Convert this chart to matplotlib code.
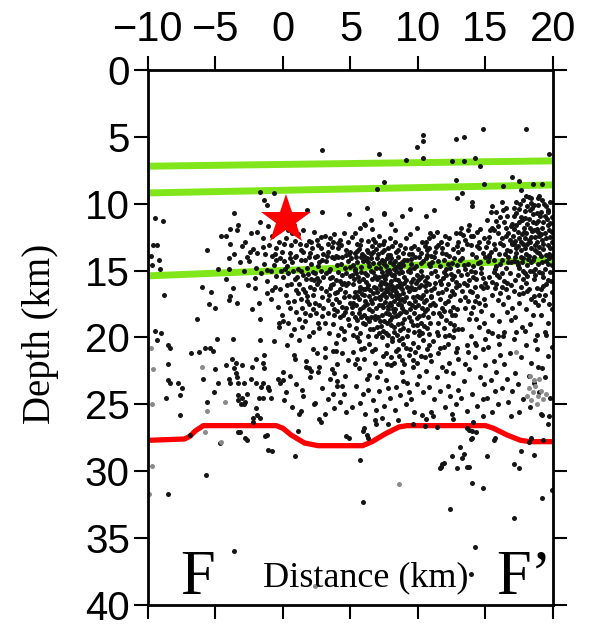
import matplotlib
matplotlib.use("Agg")
import matplotlib.pyplot as plt

plt.rcParams['font.family'] = ['Liberation Sans', 'DejaVu Sans']

# ---------------- data ----------------
x_ticks = [-10, -5, 0, 5, 10, 15, 20]
y_ticks = [0, 5, 10, 15, 20, 25, 30, 35, 40]

# interface lines (distance km, depth km)
layer1_x = [-10, 20]; layer1_y = [7.2, 6.8]
layer2_x = [-10, 20]; layer2_y = [9.2, 8.6]
layer3_x = [-10, 20]; layer3_y = [15.4, 14.2]
moho_x = [-10, -7.3, -6.9, -6.5, -5.9, -0.5, 0.0, 0.6, 1.6, 2.6, 5.9, 6.6, 7.6, 8.6, 9.2,
          15.0, 15.6, 16.6, 17.6, 18.3, 20]
moho_y = [27.7, 27.6, 27.4, 27.0, 26.6, 26.6, 26.8, 27.3, 27.9, 28.1, 28.1, 27.8, 27.2, 26.7, 26.6,
          26.6, 26.8, 27.3, 27.7, 27.8, 27.8]
mainshock_x = [0.25]
mainshock_y = [11.2]

shallow = [(7.1,6.3),(9.1,6.7),(9.9,5.8),(10.4,4.9),(10.4,5.3),(10.4,6.6),(12.5,6.8),(12.8,5.2),(13.4,5.0),
    (13.4,6.8),(14.2,6.6),(14.6,7.2),(14.8,4.4),(18.0,4.4),(19.7,6.3),(7.5,8.4),(7.0,8.9),(12.8,8.2),
    (13.3,9.2),(12.9,9.6),(14.9,8.5),(16.3,8.7),(17.0,8.0),(17.5,8.3),(18.5,8.5),(19.2,8.5),(14.0,9.9),
    (14.0,10.2),(6.2,10.3),(4.9,10.8),(7.5,10.8),(8.8,10.9),(9.4,10.4),(10.6,10.9),(11.2,10.5),(6.5,11.2),
    (6.6,11.9),(8.0,11.5),(5.7,11.8),(6.0,11.5),(15.5,10.2),(15.8,10.6),(16.2,9.9),(16.5,10.3),(17.6,9.0),
    (18.0,9.4),(18.4,9.6),(18.9,10.1),(19.2,9.7),(19.6,10.5),(1.8,10.5),(2.9,10.6),(7.5,10.7),(6.1,11.6),
    (8.3,12.0),(9.9,11.8),(2.9,6.0),(-1.7,9.1),(-0.7,9.2),(-1.4,9.7),(-1.2,10.1)]

west_sparse = [(-9.5,11.1),(-8.9,11.3),(-3.6,10.7),(-9.3,13.1),(-9.6,13.1),(-9.2,14.2),(-9.1,14.9),
    (-5.6,13.5),(-4.0,14.1),(-4.0,14.9),(-6.0,16.2),(-5.3,16.6),(-8.8,16.8),(-5.5,17.5),(-5.0,17.8),
    (-6.4,18.6),(-3.9,16.9),(-3.4,17.4),(-9.5,19.5),(-9.0,19.7),(-9.8,13.9),(-9.7,14.6)]

band_west = [(-2.8,12.9),(-2.5,14.3),(-2.2,13.4),(-1.9,12.1),(-1.6,15.2),(-1.3,13.8),(-1.1,11.7),(-2.6,16.1),
    (-2.0,14.8),(-1.5,12.6),(-1.2,16.7),(-2.9,15.0),(-1.8,17.4),(-2.4,12.2),(-1.4,14.5),(-1.0,13.1),
    (-2.1,16.3),(-1.7,11.4),(-2.7,14.0),(-1.2,15.8),(-1.9,13.7),(-2.3,17.9),
    (-4.6,12.4),(-3.9,13.0),(-3.4,12.0),(-4.2,15.6),(-3.2,14.4),(-3.7,16.3),(-4.8,14.9),(-3.3,11.6),
    (-4.0,17.2),(-3.6,13.8),(-4.2,12.4),(-3.9,11.9),
    (-0.8,12.4),(-0.5,13.3),(-0.2,14.1),(0.1,13.0),(0.4,15.2),(0.7,14.4),(0.9,12.8),(-0.9,15.0),
    (-0.6,16.2),(-0.3,12.9),(0.2,16.8),(0.5,13.7),(0.8,17.3),(-0.7,14.6),(-0.4,17.7),(0.0,15.5),
    (0.3,14.7),(0.6,16.0),(0.9,15.6),(-0.1,18.3),(0.4,18.9),(-0.8,13.9),(0.7,12.2),(-0.2,16.4),
    (0.1,14.3),(0.5,17.8),(-0.5,15.4),(0.8,19.4),(-0.9,17.1),(0.2,12.6),(0.6,13.1),(-0.6,13.8),
    (0.3,16.1),(-0.3,19.2),(0.9,14.0),(-0.1,13.6),(0.4,12.0),(0.8,11.6),(1.0,18.1),(-0.4,11.8),
    (0.15,14.85),(0.55,14.05),(0.35,17.35),(0.75,15.05),(-0.55,14.25),(-0.15,15.05),(-1.45,13.25),
    (-2.05,15.55),(-0.85,16.45),(-2.45,13.65),(-1.15,14.95),(-3.05,13.15)]

band_mid = [(1.1,12.3),(1.3,13.5),(1.6,14.2),(1.9,12.8),(2.2,15.1),(2.5,13.9),(2.8,12.5),(1.2,16.0),
    (1.5,15.3),(1.8,16.9),(2.1,14.5),(2.4,17.4),(2.7,15.8),(2.9,14.2),(1.4,17.8),(1.7,13.1),(2.0,18.3),
    (2.3,16.4),(2.6,18.9),(2.9,17.0),(1.1,14.9),(1.4,19.2),(1.7,15.6),(2.0,13.7),(2.3,12.1),(2.6,14.7),
    (2.8,16.3),(1.2,18.6),(1.5,12.0),(1.9,17.5),(2.2,19.6),(2.5,16.0),(2.8,13.3),(1.3,15.0),(1.6,16.6),
    (1.9,14.0),(2.2,17.9),(2.4,15.2),(2.7,19.3),(3.0,15.5),(1.0,13.9),(1.3,17.1),(1.6,18.2),(1.9,19.9),
    (2.1,12.9),(2.4,14.0),(2.6,13.1),(2.9,18.4),(1.1,16.7),(1.8,14.8),(2.3,15.7),(2.7,17.6),(1.5,13.6),
    (2.0,16.2),(2.5,12.7),
    (0.95,16.45),(1.35,14.25),(1.75,17.25),(2.15,13.35),(2.55,15.55),(2.95,13.75),(1.05,15.45),
    (1.45,16.35),(1.85,15.25),(2.25,16.85),(2.65,14.35),(1.25,13.05),(1.65,18.75),(2.05,15.65),
    (2.45,18.15),(2.85,15.05),
    (3.1,12.4),(3.3,13.6),(3.5,14.9),(3.7,12.9),(3.9,15.7),(4.1,13.3),(4.3,14.5),(4.5,12.2),(4.7,16.1),
    (4.9,13.8),(3.2,15.2),(3.4,16.8),(3.6,17.5),(3.8,14.1),(4.0,18.0),(4.2,16.4),(4.4,17.7),(4.6,14.8),
    (4.8,18.6),(5.0,15.4),(3.1,18.9),(3.3,17.2),(3.5,12.6),(3.7,16.0),(3.9,13.9),(4.1,15.1),(4.3,19.3),
    (4.5,15.9),(4.7,13.5),(4.9,16.9),(3.2,14.3),(3.4,19.7),(3.6,15.5),(3.8,18.3),(4.0,14.6),(4.2,12.7),
    (4.4,16.0),(4.6,18.1),(4.8,14.3),(5.0,17.4),(3.3,13.0),(3.5,16.3),(3.7,19.0),(3.9,17.1),(4.1,19.8),
    (4.3,13.1),(4.5,17.0),(4.7,15.2),(4.9,19.1),(3.0,17.8),(3.6,14.0),(4.0,16.6),(4.4,14.0),(4.8,12.9),
    (3.2,16.5),(3.8,12.3),(4.2,18.5),(4.6,16.6),(5.0,13.6),(3.4,15.0),(3.9,20.4),(4.5,20.1),(3.1,20.8),
    (4.7,17.8),(4.1,14.0),
    (3.25,13.95),(3.45,15.55),(3.65,13.25),(3.85,16.65),(4.05,12.95),(4.25,15.75),(4.45,18.35),
    (4.65,13.85),(4.85,15.95),(3.35,18.15),(3.75,17.85),(4.15,17.35),(4.55,19.55),(4.95,14.75),
    (3.55,16.05),(4.35,15.35)]

band_core = [(5.1,12.5),(5.3,13.7),(5.5,14.4),(5.7,13.1),(5.9,15.6),(6.1,14.2),(6.3,12.8),(6.5,15.0),
    (6.7,13.6),(6.9,16.3),(5.2,16.0),(5.4,15.2),(5.6,17.1),(5.8,14.0),(6.0,16.8),(6.2,17.5),(6.4,14.7),
    (6.6,18.0),(6.8,15.4),(7.0,14.1),(5.1,18.2),(5.3,16.6),(5.5,18.7),(5.7,16.2),(5.9,17.7),(6.1,19.0),
    (6.3,16.1),(6.5,17.2),(6.7,19.4),(6.9,17.8),(5.2,14.6),(5.4,19.3),(5.6,13.4),(5.8,18.5),(6.0,13.9),
    (6.2,15.3),(6.4,18.8),(6.6,13.2),(6.8,18.4),(7.0,16.6),(5.1,15.3),(5.3,12.2),(5.5,16.9),(5.7,19.7),
    (5.9,14.3),(6.1,16.4),(6.3,19.9),(6.5,14.1),(6.7,16.7),(6.9,14.8),(5.2,17.4),(5.4,14.0),(5.6,15.8),
    (5.8,12.7),(6.0,18.3),(6.2,13.5),(6.4,16.9),(6.6,15.6),(6.8,12.9),(7.0,19.2),(5.3,15.0),(5.5,13.0),
    (5.7,17.9),(5.9,16.4),(6.1,17.3),(6.3,14.4),(6.5,18.5),(6.7,15.1),(6.9,13.4),(5.4,17.6),(5.8,15.1),
    (6.2,16.3),(6.6,17.4),(5.6,20.3),(6.0,20.8),(6.4,20.5),(6.8,20.9),(5.2,19.8),(6.9,19.9),(6.3,13.6),
    (5.05,14.05),(5.25,15.65),(5.45,13.55),(5.65,16.55),(5.85,13.75),(6.05,15.15),(6.25,14.05),
    (6.45,16.45),(6.65,14.45),(6.85,17.05),(5.15,17.75),(5.35,18.45),(5.55,15.45),(5.75,14.75),
    (5.95,18.95),(6.15,15.85),(6.35,17.85),(6.55,13.75),(6.75,16.25),(6.95,15.65),(5.25,16.95),
    (5.65,18.15),(6.05,17.55),(6.45,19.35),(6.85,18.65),(5.45,19.95),(6.25,18.55),(5.85,16.75),
    (6.65,12.65),(5.35,14.85),
    (7.1,13.1),(7.3,14.2),(7.5,13.5),(7.7,15.0),(7.9,14.4),(8.1,13.2),(8.3,15.6),(8.5,14.0),(8.7,16.2),
    (8.9,13.7),(7.2,16.1),(7.4,15.4),(7.6,17.0),(7.8,16.3),(8.0,15.8),(8.2,17.3),(8.4,16.6),(8.6,15.2),
    (8.8,17.8),(9.0,15.9),(7.1,17.6),(7.3,18.3),(7.5,16.7),(7.7,18.9),(7.9,17.4),(8.1,18.5),(8.3,17.9),
    (8.5,19.0),(8.7,18.2),(8.9,19.3),(7.2,14.8),(7.4,13.0),(7.6,14.7),(7.8,13.3),(8.0,14.1),(8.2,14.9),
    (8.4,13.6),(8.6,14.5),(8.8,15.1),(9.0,14.2),(7.1,15.5),(7.3,16.8),(7.5,15.9),(7.7,16.5),(7.9,16.0),
    (8.1,16.9),(8.3,16.3),(8.5,17.5),(8.7,14.8),(8.9,16.7),(7.2,18.8),(7.4,19.5),(7.6,18.2),(7.8,19.8),
    (8.0,19.1),(8.2,19.6),(8.4,18.4),(8.6,20.2),(8.8,18.9),(9.0,17.3),(7.1,12.4),(7.5,12.8),(7.9,12.6),
    (8.3,12.9),(8.7,13.1),(7.3,15.1),(7.7,14.1),(8.1,15.3),(8.5,15.7),(8.9,14.6),(7.2,17.1),(7.6,16.0),
    (8.0,17.6),(8.4,15.0),(8.8,16.4),(7.4,17.7),(7.8,17.9),(8.2,18.1),(8.6,16.8),(9.0,18.6),(7.3,20.0),
    (7.7,20.6),(8.1,20.3),(8.5,20.9),(8.9,20.5),(7.5,14.3),(7.9,15.2),(8.3,14.3),(8.7,17.2),(7.1,19.7),
    (7.6,21.2),(8.0,21.5),(8.4,21.0),(8.8,21.7),(7.9,18.7),
    (7.05,13.75),(7.25,15.85),(7.45,14.55),(7.65,16.35),(7.85,14.95),(8.05,16.45),(8.25,15.35),
    (8.45,17.05),(8.65,15.95),(8.85,14.35),(7.15,16.95),(7.35,17.55),(7.55,17.35),(7.75,17.65),
    (7.95,16.75),(8.15,17.85),(8.35,16.85),(8.55,18.35),(8.75,17.55),(8.95,18.05),(7.05,18.45),
    (7.45,18.75),(7.85,18.25),(8.25,19.25),(8.65,19.45),(7.25,19.15),(7.65,19.65),(8.05,20.05),
    (8.45,19.85),(8.85,20.05),(7.35,13.65),(7.75,13.85),(8.15,14.55),(8.55,13.45),(8.95,15.45),
    (7.15,14.45),(7.55,15.65),(7.95,13.85),(8.35,14.75),(8.75,16.05),(7.65,15.35),(8.05,16.15),
    (8.45,16.15),(7.25,16.35),(8.85,17.15),
    (9.1,12.6),(9.3,13.8),(9.5,14.5),(9.7,13.2),(9.9,15.3),(10.1,14.0),(10.3,12.9),(10.5,15.8),(10.7,13.5),
    (10.9,14.7),(9.2,16.2),(9.4,15.1),(9.6,17.0),(9.8,16.4),(10.0,17.6),(10.2,16.1),(10.4,14.3),(10.6,17.2),
    (10.8,16.0),(11.0,15.2),(9.1,18.1),(9.3,17.4),(9.5,18.8),(9.7,18.2),(9.9,19.1),(10.1,18.4),(10.3,19.7),
    (10.5,18.0),(10.7,19.3),(10.9,17.6),(9.2,14.2),(9.4,12.3),(9.6,15.6),(9.8,14.0),(10.0,13.4),(10.2,15.0),
    (10.4,16.8),(10.6,14.1),(10.8,12.6),(11.0,13.9),(9.1,15.7),(9.3,16.5),(9.5,16.2),(9.7,19.6),(9.9,16.9),
    (10.1,17.0),(10.3,17.8),(10.5,13.2),(10.7,15.9),(10.9,18.9),(9.2,19.9),(9.6,20.4),(10.0,20.7),(10.4,20.2),
    (10.8,20.6),(9.4,17.9),(9.8,17.3),(10.2,18.9),(10.6,16.5),(11.0,16.9),(9.3,21.3),(9.9,21.9),(10.5,21.5),
    (9.5,13.3),(10.3,15.4),(10.9,12.2),(9.7,14.8),(10.1,19.5),(10.7,17.9),(9.1,20.8),(10.0,15.7),(10.6,12.9),
    (9.4,14.9),(10.8,14.5),(10.2,13.7),
    (9.05,13.35),(9.25,15.05),(9.45,14.15),(9.65,16.35),(9.85,14.65),(10.05,16.25),(10.25,14.45),
    (10.45,17.35),(10.65,15.45),(10.85,13.35),(9.15,16.95),(9.35,18.45),(9.55,17.55),(9.75,17.75),
    (9.95,18.55),(10.15,15.55),(10.35,18.35),(10.55,16.15),(10.75,18.45),(10.95,16.45),(9.25,19.45),
    (9.65,19.05),(10.05,19.85),(10.45,19.15),(10.85,19.75),(9.45,15.85),(9.85,15.95),(10.25,17.05),
    (10.65,13.85),(9.55,13.75)]

band_east = [(11.1,12.4),(11.3,13.6),(11.5,14.3),(11.7,12.9),(11.9,15.1),(12.1,13.8),(12.3,12.6),(12.5,15.6),
    (12.7,14.1),(12.9,13.2),(11.2,16.3),(11.4,15.4),(11.6,17.1),(11.8,16.6),(12.0,17.4),(12.2,16.0),
    (12.4,14.8),(12.6,17.7),(12.8,16.2),(13.0,15.0),(11.1,18.2),(11.3,17.6),(11.5,18.9),(11.7,18.4),
    (11.9,19.3),(12.1,18.7),(12.3,19.8),(12.5,18.3),(12.7,19.1),(12.9,17.9),(11.2,14.0),(11.4,12.1),
    (11.6,15.8),(11.8,13.7),(12.0,12.4),(12.2,14.5),(12.4,16.9),(12.6,13.4),(12.8,12.2),(13.0,13.6),
    (11.3,15.0),(11.7,16.0),(12.1,15.3),(12.5,16.5),(12.9,14.6),(11.5,13.1),(11.9,14.2),(12.3,13.9),
    (12.7,15.4),(11.1,20.3),(11.6,20.8),(12.2,20.5),(12.8,21.1),(11.4,19.6),(12.0,19.9),(12.6,20.0),
    (13.0,19.4),(11.0,17.0),(12.4,18.0),(11.8,17.8),
    (11.05,14.35),(11.25,15.95),(11.45,16.65),(11.65,14.65),(11.85,15.55),(12.05,16.35),(12.25,17.25),
    (12.45,15.25),(12.65,16.75),(12.85,15.85),(11.15,17.45),(11.55,18.15),(11.95,18.05),(12.35,18.95),
    (12.75,18.35),(11.35,13.25),(11.75,13.35),(12.15,13.05),(12.55,14.45),(12.95,12.85),(11.45,19.85),
    (12.05,14.85),(12.65,19.45),
    (13.1,12.2),(13.3,13.4),(13.5,12.7),(13.7,14.5),(13.9,13.1),(14.1,12.4),(14.3,14.0),(14.5,13.3),
    (14.7,15.2),(14.9,12.6),(13.2,15.3),(13.4,14.6),(13.6,16.1),(13.8,15.7),(14.0,16.6),(14.2,15.1),
    (14.4,16.9),(14.6,14.4),(14.8,16.3),(15.0,14.0),(13.1,17.2),(13.3,16.5),(13.5,17.8),(13.7,17.3),
    (13.9,18.2),(14.1,17.7),(14.3,18.6),(14.5,17.4),(14.7,18.0),(14.9,17.1),(13.2,11.8),(13.6,13.0),
    (14.0,13.8),(14.4,12.1),(14.8,13.7),(13.4,15.9),(13.8,11.6),(14.2,16.2),(14.6,11.9),(15.0,15.9),
    (13.3,19.4),(13.9,19.9),(14.5,19.2),(15.0,20.1),(13.6,20.6),(14.2,20.4),(14.8,20.9),(13.1,14.2),
    (13.5,14.9),(13.9,15.0),(14.3,15.6),(14.7,14.8),(13.7,12.0),(14.1,14.7),(14.9,18.9),
    (13.05,16.05),(13.45,16.95),(13.85,16.55),(14.25,17.25),(14.65,16.15),(13.25,14.05),(13.65,15.25),
    (14.05,15.45),(14.45,14.45),(14.85,15.55),(13.35,12.35),(13.95,12.45),(14.55,12.85),(15.05,13.25),
    (13.75,18.65),(14.35,13.15),
    (15.1,11.2),(15.3,12.5),(15.5,11.8),(15.7,13.4),(15.9,12.2),(16.1,11.0),(16.3,13.1),(16.5,12.4),
    (16.7,14.0),(16.9,11.7),(15.2,14.3),(15.4,13.6),(15.6,15.1),(15.8,14.7),(16.0,15.5),(16.2,14.2),
    (16.4,15.8),(16.6,13.5),(16.8,15.2),(17.0,13.0),(15.1,16.2),(15.3,15.5),(15.5,16.8),(15.7,16.3),
    (15.9,17.2),(16.1,16.7),(16.3,17.5),(16.5,16.4),(16.7,17.0),(16.9,16.1),(15.2,12.9),(15.6,12.0),
    (16.0,13.8),(16.4,11.4),(16.8,12.7),(15.4,10.6),(15.8,11.3),(16.2,12.6),(16.6,10.9),(17.0,11.5),
    (15.3,14.0),(15.7,14.9),(16.1,14.5),(16.5,14.8),(16.9,14.4),(15.5,18.3),(16.0,18.8),(16.6,18.1),
    (15.2,19.5),(15.9,19.9),(16.4,19.6),(16.9,18.7),(15.6,13.0),(16.3,10.5),(16.7,12.2),(15.0,17.6),
    (16.2,15.2),(15.8,16.0),(16.6,15.9),(17.0,17.8),
    (15.25,13.85),(15.65,14.25),(16.05,12.95),(16.45,13.75),(16.85,13.55),(15.45,15.85),(15.85,15.35),
    (16.25,16.25),(16.65,14.35),(15.35,11.95),(15.95,11.65),(16.55,11.85),(16.95,12.95)]

band_far_east = [(17.1,10.9),(17.3,11.6),(17.5,10.4),(17.7,12.3),(17.9,11.1),(18.1,10.2),(18.3,11.8),
    (18.5,10.8),(18.7,12.5),(18.9,11.3),(17.2,12.8),(17.4,12.1),(17.6,13.5),(17.8,13.0),(18.0,13.8),
    (18.2,12.7),(18.4,13.3),(18.6,12.0),(18.8,13.6),(19.0,12.4),(17.1,14.3),(17.3,13.7),(17.5,14.8),
    (17.7,14.4),(17.9,15.2),(18.1,14.6),(18.3,15.0),(18.5,14.2),(18.7,14.9),(18.9,14.5),(17.2,15.7),
    (17.4,15.3),(17.6,16.2),(17.8,16.7),(18.0,15.9),(18.2,16.4),(18.4,17.1),(18.6,15.6),(18.8,16.3),
    (19.0,16.8),(17.1,11.9),(17.3,10.7),(17.5,12.6),(17.7,11.2),(17.9,13.3),(18.1,11.5),(18.3,12.9),
    (18.5,11.4),(18.7,13.1),(18.9,12.1),(17.2,14.0),(17.4,14.6),(17.6,11.0),(17.8,14.1),(18.0,12.2),
    (18.2,13.9),(18.4,12.5),(18.6,14.0),(18.8,10.7),(19.0,13.7),(17.3,9.9),(17.8,9.7),(18.2,9.5),
    (18.6,10.1),(18.9,9.6),(17.5,17.4),(18.0,17.9),(18.5,18.3),(18.9,17.6),(17.2,18.5),(17.7,19.2),
    (18.3,19.0),(18.8,19.8),(17.4,13.2),(17.9,12.6),(18.4,14.4),(18.8,11.9),(17.6,14.0),(18.1,15.4),
    (18.6,16.9),(17.1,16.5),(18.3,10.5),(18.7,15.3),(17.8,15.6),(19.0,15.1),
    (19.1,10.6),(19.3,11.4),(19.5,10.2),(19.7,12.0),(19.9,11.0),(19.2,12.7),(19.4,12.2),(19.6,13.1),
    (19.8,12.5),(19.1,13.9),(19.3,13.4),(19.5,14.3),(19.7,13.8),(19.9,14.6),(19.2,15.2),(19.4,14.9),
    (19.6,15.7),(19.8,15.1),(19.1,16.4),(19.5,16.0),(19.9,16.6),(19.3,17.2),(19.7,17.5),(19.4,10.9),
    (19.8,9.9),(19.2,11.8),(19.6,11.6),(19.9,12.9),(19.3,15.5),(19.7,14.1),(19.1,18.3),(19.6,18.9),
    (19.9,17.9),(19.4,19.6),(19.5,12.6),(19.2,14.4),(19.8,13.3),(19.6,10.6),(19.0,9.4),(19.4,16.8),
    (17.05,12.45),(17.25,13.35),(17.45,11.35),(17.65,12.85),(17.85,11.85),(18.05,13.05),(18.25,11.15),
    (18.45,12.05),(18.65,13.45),(18.85,12.85),(17.15,10.35),(17.55,10.05),(17.95,10.55),(18.35,9.95),
    (18.75,11.45),(19.15,12.25),(19.35,10.05),(19.55,11.15),(19.75,11.45),(19.95,12.15),(17.35,14.35),
    (17.75,15.05),(18.15,14.15),(18.55,15.05),(18.95,13.25),(19.25,13.05),(19.45,13.85),(19.65,14.55),
    (19.85,13.95),(17.45,16.75),(18.05,16.55),(18.65,17.35),(19.25,16.15),(19.85,15.75),(17.15,13.05),
    (17.85,12.15),(18.45,10.35),(19.05,10.95)]

lower_crust = [(0.3,20.6),(0.8,21.3),(1.2,20.2),(1.7,21.8),(2.2,20.9),(2.6,22.6),(3.1,21.5),(3.5,23.1),
    (4.0,22.0),(4.4,23.6),(4.8,21.7),(0.5,22.9),(1.0,23.5),(1.5,24.4),(2.0,23.0),(2.4,24.9),(2.9,23.8),
    (3.3,24.6),(3.8,25.3),(4.2,24.8),(4.7,25.6),(0.2,24.1),(1.3,25.5),(2.7,26.1),(3.6,22.4),(4.6,22.9),
    (1.9,22.3),(0.6,19.8),(2.5,21.2),(3.9,21.0),
    (5.2,21.1),(5.6,22.3),(6.0,21.6),(6.4,22.8),(6.8,21.9),(7.2,22.5),(7.6,23.2),(8.0,22.1),(8.4,23.7),
    (8.8,22.6),(9.2,23.4),(9.6,22.2),(5.4,23.6),(5.9,24.2),(6.3,23.9),(6.7,24.7),(7.1,24.0),(7.5,25.1),
    (7.9,24.5),(8.3,25.4),(8.7,24.3),(9.1,25.0),(9.5,24.6),(9.9,23.5),(5.1,25.2),(6.1,25.7),(7.3,26.0),
    (8.5,26.2),(9.7,25.6),(5.8,20.9),(6.6,21.0),(7.4,21.4),(8.2,21.9),(9.0,22.0),(9.8,21.1),(5.3,22.0),
    (7.0,23.0),(8.6,21.4),(9.4,20.9),(6.2,23.1),(7.8,23.8),(9.3,24.1),(5.7,24.9),(8.9,23.3),(6.9,25.4),
    (5.5,21.6),(7.7,22.0),(9.6,21.7),
    (10.2,21.4),(10.6,22.5),(11.0,21.8),(11.4,23.0),(11.8,22.2),(12.2,23.6),(12.6,22.7),(13.0,21.6),
    (13.4,23.3),(13.8,22.4),(14.2,21.5),(14.6,23.0),(15.0,22.1),(10.4,24.1),(10.8,23.7),(11.2,24.6),
    (11.6,24.0),(12.0,25.2),(12.4,24.4),(12.8,25.0),(13.2,24.5),(13.6,25.5),(14.0,24.2),(14.4,25.1),
    (14.8,24.6),(10.1,22.9),(11.5,21.2),(12.9,20.8),(14.3,20.6),(10.7,20.9),(12.3,21.9),(13.7,21.1),
    (14.9,23.5),(11.0,25.6),(13.0,23.9),(10.3,25.8),(12.6,26.1),(14.1,26.3),(11.9,20.7),(13.5,22.0),
    (10.9,21.3),(12.1,22.5),
    (15.2,20.7),(15.6,21.8),(16.0,20.5),(16.4,22.0),(16.8,21.2),(17.2,22.7),(17.6,21.5),(18.0,20.6),
    (18.4,21.9),(18.8,20.9),(19.2,22.3),(19.6,21.4),(15.4,23.2),(15.8,22.6),(16.2,23.8),(16.6,23.1),
    (17.0,24.0),(17.4,23.5),(17.8,24.6),(18.2,22.9),(18.6,23.4),(19.0,24.1),(19.4,23.0),(19.8,24.5),
    (15.1,24.5),(15.9,25.0),(16.7,24.8),(17.5,25.6),(18.3,25.2),(19.1,25.7),(15.5,19.7),(16.3,19.9),
    (17.1,20.1),(17.9,19.5),(18.7,20.2),(19.5,19.8),(16.1,21.3),(17.3,19.6),(19.9,20.7),(15.7,24.0),
    (18.9,22.2),(16.9,25.9),
    (6.0,26.8),(6.2,27.3),(5.9,27.0),(6.8,26.2),(6.9,26.5),(7.8,26.5),(10.6,26.1),(11.1,25.9),(9.6,26.5),
    (10.5,26.6),(11.4,26.7),(12.5,25.7),(13.6,26.8),(13.8,26.9),(14.8,25.9),(15.5,25.6),(19.6,26.5),
    (19.7,25.9),(19.2,25.8)]

west_lower = [(-1.7,18.6),(-0.3,18.9),(0.0,18.8),(-9.3,20.2),(-8.5,20.6),(-8.4,20.8),(-4.9,20.1),
    (-3.7,20.1),(-1.7,20.2),(-0.7,20.3),(-6.8,21.2),(-6.2,21.1),(-5.8,20.8),(-5.4,20.8),(-5.2,21.0),
    (-8.5,22.0),(-5.0,22.4),(-4.2,22.1),(-3.8,21.6),(-3.6,22.3),(-3.5,21.9),(-3.0,22.1),(-2.3,22.2),
    (-2.0,21.6),(-1.5,21.9),(-1.4,22.3),(-1.4,21.3),(0.0,22.6),(-8.5,23.2),(-8.4,23.4),(-7.8,23.4),
    (-7.5,23.8),(-5.9,23.1),(-4.8,23.4),(-4.0,23.1),(-3.9,23.4),(-3.4,23.0),(-3.3,23.4),(-2.9,23.4),
    (-3.5,22.7),(-2.4,23.1),(-2.0,23.4),(-1.6,23.7),(-1.5,23.4),(-1.1,23.7),(-1.0,23.9),(-0.4,23.1),
    (0.0,23.2),(-0.2,23.4),(-8.7,24.5),(-7.6,24.3),(-5.6,24.8),(-5.1,24.1),(-3.3,24.3),(-3.3,24.7),
    (-3.0,24.5),(-2.8,24.8),(-2.9,25.0),(-3.1,25.0),(-2.7,24.2),(-1.8,24.5),(-1.5,24.5),(-1.1,23.8),
    (-0.9,24.5),(-2.0,25.3),(-1.9,25.8),(-7.6,25.8),(-2.2,26.3),(-2.2,26.0),(-1.7,26.0),(-3.3,27.1),
    (-2.8,27.5),(-1.3,27.4),(-1.2,27.3),(-6.9,27.3),(-3.2,27.1),(-2.7,27.7),(-4.7,27.9),
    (2.3,25.0),(2.8,26.3),(3.1,25.7),(1.2,25.7),(0.7,25.2),(0.1,24.7),(1.4,23.9),(0.9,21.6),(1.7,22.2),
    (2.1,22.5),(2.7,22.2),(3.7,21.0),(4.4,21.2),(3.8,22.7),(4.0,23.3),(4.0,23.6),(4.5,24.2),(3.7,24.2),
    (4.7,27.4),(1.1,27.0)]

deep = [(-1.1,28.4),(-0.8,28.5),(0.9,28.9),(-5.7,30.3),(-8.5,31.7),(-3.6,36.0),(4.9,27.5),(6.3,27.5),
    (5.7,29.2),(5.9,32.3),(11.7,29.7),(11.8,29.5),(11.9,29.4),(12.5,28.9),(13.1,28.2),(13.3,29.0),
    (13.4,28.7),(12.9,29.8),(13.8,29.7),(13.9,27.6),(15.1,28.9),(15.6,27.7),(15.7,27.5),(14.0,30.9),
    (14.8,31.3),(12.4,32.8),(17.1,29.5),(17.5,29.8),(17.6,28.5),(18.6,28.8),(18.2,27.8),(19.3,27.7),
    (19.2,32.0),(19.9,31.4),(17.1,33.5),(14.2,35.7),(13.9,37.7),(14.0,27.0),(14.0,27.5),(14.3,27.1),
    (13.6,29.7),(11.6,29.8),(18.4,27.5)]

faint = [(-9.6,22.4),(-6.0,22.2),(-9.7,25.0),(-4.3,24.8),(-5.6,25.5),(-5.8,27.1),(-4.6,27.8),
    (-9.9,31.7),(8.6,31.0),(2.4,38.6),(18.2,23.8),(18.5,24.1),(18.7,23.6),(18.9,24.4),(19.1,24.0),
    (18.4,24.7),(18.8,25.0),(19.3,24.6),(18.6,23.2),(19.0,23.1),(18.3,22.9),(17.3,21.1),(19.5,24.2),
    (18.1,24.4),(-9.8,20.8),(-9.7,29.6)]

# ---------------- figure ----------------
fig = plt.figure(figsize=(5.92, 6.30), dpi=100)
ax = fig.add_axes([0.25, 0.04, 0.684, 0.849])

green = '#80e61a'
ax.plot(layer1_x, layer1_y, color=green, lw=5, solid_capstyle='butt', zorder=1)
ax.plot(layer2_x, layer2_y, color=green, lw=5, solid_capstyle='butt', zorder=1)
ax.plot(layer3_x, layer3_y, color=green, lw=5, solid_capstyle='butt', zorder=1)
ax.plot(moho_x, moho_y, color='#ff0000', lw=3.8, solid_joinstyle='round', zorder=1)

black_groups = [shallow, west_sparse, band_west, band_mid, band_core, band_east, band_far_east,
                lower_crust, west_lower, deep]
for grp in black_groups:
    gx = [p[0] for p in grp]
    gy = [p[1] for p in grp]
    ax.plot(gx, gy, 'o', color='#151515', ms=3.6, mew=0, zorder=2)
ax.plot([p[0] for p in faint], [p[1] for p in faint], 'o', color='#8a8a8a', ms=3.6, mew=0, zorder=2)

ax.plot(mainshock_x, mainshock_y, '*', color='#ff0000', ms=38, mew=0, zorder=3)

ax.set_xlim(-10, 20)
ax.set_ylim(40, 0)
ax.set_xticks(x_ticks)
ax.set_yticks(y_ticks)
ax.set_xticklabels([str(v).replace('-', '\u2212') for v in x_ticks])
ax.xaxis.set_ticks_position('both')
ax.yaxis.set_ticks_position('both')
ax.tick_params(axis='x', which='both', top=True, bottom=True, labeltop=True, labelbottom=False,
               direction='out', labelsize=30, width=1.5, pad=4)
ax.tick_params(axis='y', which='both', left=True, right=True, labelleft=True, labelright=False,
               direction='out', labelsize=29, width=1.5, pad=3)
ax.tick_params(axis='x', which='major', length=10)
ax.tick_params(axis='y', which='major', length=10)
for s in ax.spines.values():
    s.set_linewidth(2.0)

serif = ['Liberation Serif', 'DejaVu Serif']
fig.text(0.068, 0.47, 'Depth (km)', rotation=90, ha='center', va='center', fontsize=28, family=serif)
ax.text(6.1, 38.6, 'Distance (km)', ha='center', va='baseline', fontsize=26, family=serif, zorder=4)
ax.text(-7.6, 39.2, 'F', ha='left', va='baseline', fontsize=45, family=serif, zorder=4)
ax.text(15.8, 39.2, 'F\u2019', ha='left', va='baseline', fontsize=45, family=serif, zorder=4)

fig.savefig('out.png', dpi=100)
